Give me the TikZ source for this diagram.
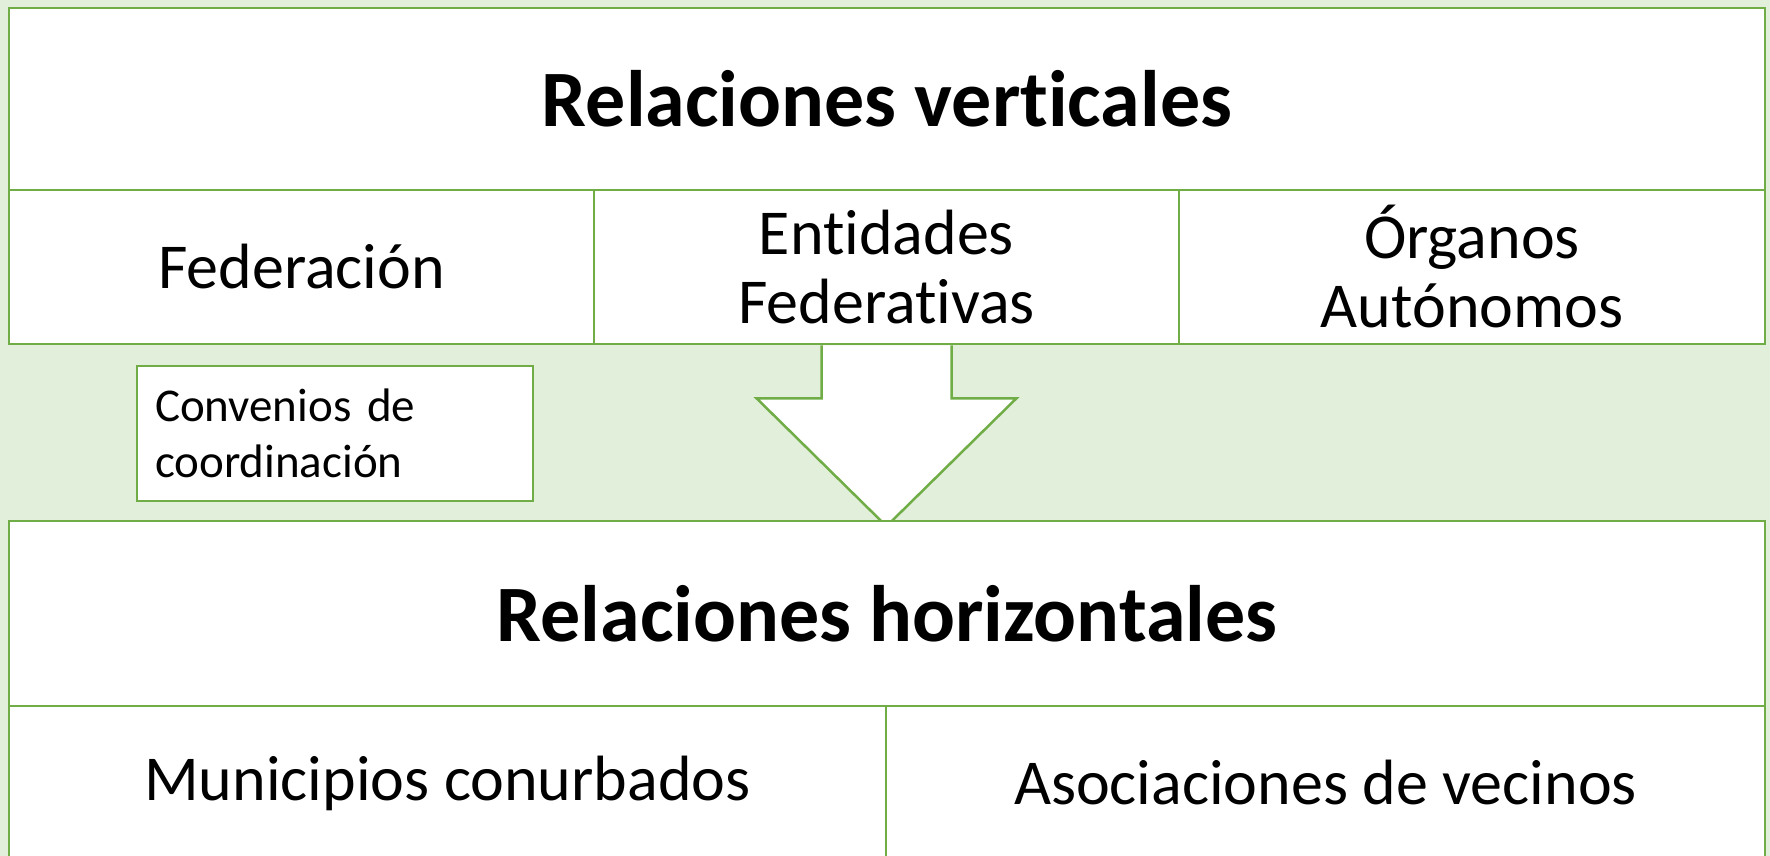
\documentclass[tikz,border=0pt]{standalone}
\usepackage{fontspec}
\setmainfont[RawFeature={-liga;-clig;-dlig;-calt}]{Carlito}
\usetikzlibrary{calc,backgrounds}
\definecolor{leafgreen}{HTML}{70AD47}
\definecolor{bandgreen}{HTML}{E2EFDA}
\tikzset{cell/.style={rectangle,draw=leafgreen,line width=2.5pt,fill=white,inner sep=0pt},
	title/.style={cell,font=\fontsize{80}{96}\selectfont\bfseries},
	item/.style={cell,font=\fontsize{64}{69}\selectfont,align=center},
	note/.style={cell,font=\fontsize{47}{56}\selectfont,align=left}}

\begin{document}
\begin{tikzpicture}[x=1pt,y=-1pt]
		\useasboundingbox (0,0) rectangle (1770,856);
		\clip (0,0) rectangle (1770,856);
		\begin{scope}
			\node[title,minimum width=1756pt,minimum height=182pt] (vert) at (887,99) {Relaciones verticales};
			\node[item,minimum width=585pt,minimum height=154pt] (fed) at (301.5,267) {Federación};
			\node[item,minimum width=585pt,minimum height=154pt] (ent) at (886.5,267) {Entidades\\Federativas};
			\node[item,minimum width=586pt,minimum height=154pt] (org) at (1472,267) {Órganos\\Autónomos};
			\node[note,minimum width=396pt,minimum height=135pt,text width=360pt,inner xsep=18pt] (conv) at (335,433.5) {Convenios de\\coordinación};
			\node[title,minimum width=1756pt,minimum height=185pt] (horiz) at (887,613.5) {Relaciones horizontales};
			\node[item,minimum width=877pt,minimum height=154pt] (mun) at (447.5,783) {Municipios conurbados};
			\node[item,minimum width=879pt,minimum height=154pt] (asoc) at (1325.5,783) {Asociaciones de vecinos};
		\end{scope}
		\begin{scope}[on background layer]
			\fill[bandgreen] (0,0) rectangle (1770,856);
			\draw[leafgreen,line width=2.5pt,fill=white,line join=miter]
				($(ent.south)+(-65,0)$) -- ++(0,53) -- ++(-65,0) -- ($(ent.south)+(0,181)$)
				-- ($(ent.south)+(130,53)$) -- ++(-65,0) -- ($(ent.south)+(65,0)$);
		\end{scope}
	\end{tikzpicture}
\end{document}
